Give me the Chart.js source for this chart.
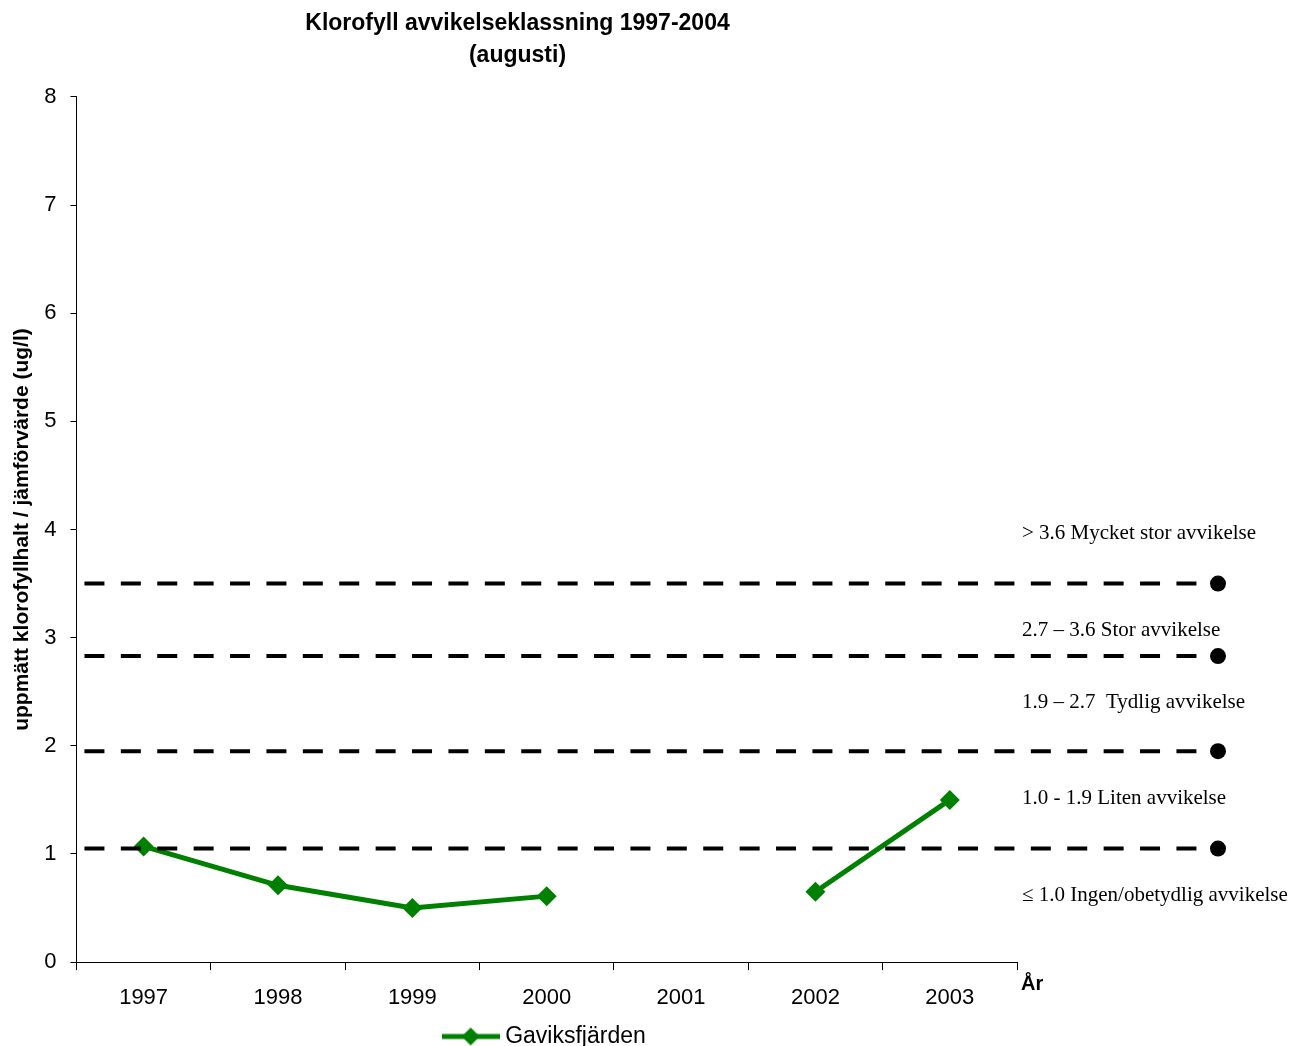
<!DOCTYPE html>
<html>
<head>
<meta charset="utf-8">
<script src="https://cdn.jsdelivr.net/npm/chart.js@4"></script>
<style>
  html, body { margin: 0; padding: 0; background: #fff; }
  #wrap { width: 1296px; height: 1046px; }
</style>
</head>
<body>
<div id="wrap"><canvas id="klorofyllChart"></canvas></div>
<script>
// Data
const years = ['1997', '1998', '1999', '2000', '2001', '2002', '2003'];
const gaviksfjarden = [1.07, 0.71, 0.50, 0.61, null, 0.65, 1.50];

// Class boundaries (dashed lines) and the class texts to the right
const classLimits = [3.5, 2.83, 1.95, 1.05];
const classTexts = [
    '> 3.6 Mycket stor avvikelse',
    '2.7 \u2013 3.6 Stor avvikelse',
    '1.9 \u2013 2.7  Tydlig avvikelse',
    '1.0 - 1.9 Liten avvikelse',
    '\u2264 1.0 Ingen/obetydlig avvikelse'
];
const classTextLevels = [3.96, 3.07, 2.40, 1.51, 0.62];

const yTicks = [0, 1, 2, 3, 4, 5, 6, 7, 8];

const green = '#008000';

// legend marker: line with a diamond in the middle
function legendMarker() {
    const c = document.createElement('canvas');
    c.width = 58;
    c.height = 20;
    const ctx = c.getContext('2d');
    ctx.strokeStyle = green;
    ctx.lineWidth = 5;
    ctx.beginPath();
    ctx.moveTo(0, 10);
    ctx.lineTo(58, 10);
    ctx.stroke();
    ctx.fillStyle = green;
    ctx.beginPath();
    ctx.moveTo(29 - 9, 10);
    ctx.lineTo(29, 1);
    ctx.lineTo(29 + 9, 10);
    ctx.lineTo(29, 19);
    ctx.closePath();
    ctx.fill();
    return c;
}

// dashed class lines, end dots, class texts and the "År" label
const classLinesPlugin = {
    id: 'classLines',
    afterDatasetsDraw(chart) {
        const ctx = chart.ctx;
        const area = chart.chartArea;
        const y = chart.scales.y;
        const xEnd = area.right + 201;
        ctx.save();
        classLimits.forEach(v => {
            const py = y.getPixelForValue(v);
            ctx.strokeStyle = '#000';
            ctx.lineWidth = 4;
            ctx.setLineDash([20, 16.4]);
            ctx.beginPath();
            ctx.moveTo(area.left + 8, py);
            ctx.lineTo(xEnd - 20, py);
            ctx.stroke();
            ctx.setLineDash([]);
            ctx.fillStyle = '#000';
            ctx.beginPath();
            ctx.arc(xEnd, py, 8, 0, Math.PI * 2);
            ctx.fill();
        });
        ctx.font = '21px "Liberation Serif", "Times New Roman", serif';
        ctx.fillStyle = '#000';
        ctx.textAlign = 'left';
        ctx.textBaseline = 'middle';
        classTexts.forEach((t, i) => {
            ctx.fillText(t, area.right + 5, y.getPixelForValue(classTextLevels[i]));
        });
        ctx.font = 'bold 20px "Liberation Sans", Arial, sans-serif';
        ctx.fillText('År', area.right + 4, area.bottom + 22);
        ctx.restore();
    }
};

const klorofyllConfig = {
    type: 'line',
    data: {
        labels: years,
        datasets: [{
            label: 'Gaviksfjärden',
            data: gaviksfjarden,
            borderColor: green,
            backgroundColor: green,
            borderWidth: 5,
            pointStyle: 'rectRot',
            pointRadius: 10,
            pointBorderWidth: 0,
            pointBackgroundColor: green,
            spanGaps: false,
            tension: 0
        }]
    },
    options: {
        responsive: true,
        maintainAspectRatio: false,
        animation: false,
        devicePixelRatio: 1,
        layout: {
            padding: { left: 18, right: 279, top: 0, bottom: -12 }
        },
        plugins: {
            title: {
                display: true,
                text: ['Klorofyll avvikelseklassning 1997-2004', '(augusti)'],
                color: '#000',
                font: { family: '"Liberation Sans", Arial, sans-serif', size: 23, weight: 'bold', lineHeight: 1.39 },
                padding: { top: 8, bottom: 25 }
            },
            legend: {
                position: 'bottom',
                fullSize: false,
                labels: {
                    color: '#000',
                    font: { family: '"Liberation Sans", Arial, sans-serif', size: 23 },
                    usePointStyle: true,
                    pointStyleWidth: 46,
                    padding: 0,
                    generateLabels: function(chart) {
                        return [{
                            text: chart.data.datasets[0].label,
                            pointStyle: legendMarker(),
                            fillStyle: green,
                            strokeStyle: green,
                            lineWidth: 0,
                            datasetIndex: 0
                        }];
                    }
                }
            },
            tooltip: { enabled: false }
        },
        scales: {
            x: {
                offset: true,
                grid: {
                    offset: true,
                    drawOnChartArea: false,
                    drawTicks: true,
                    tickLength: 8,
                    color: '#000'
                },
                border: { color: '#000', width: 1 },
                ticks: {
                    color: '#000',
                    font: { family: '"Liberation Sans", Arial, sans-serif', size: 22, lineHeight: 1.95 },
                    padding: 6,
                    maxRotation: 0
                }
            },
            y: {
                min: 0,
                max: 8,
                afterBuildTicks: function(scale) {
                    scale.ticks = yTicks.map(v => ({ value: v }));
                },
                grid: {
                    drawOnChartArea: false,
                    drawTicks: true,
                    tickLength: 6,
                    color: '#000'
                },
                border: { color: '#000', width: 1 },
                ticks: {
                    color: '#000',
                    font: { family: '"Liberation Sans", Arial, sans-serif', size: 22 },
                    padding: 14
                },
                title: {
                    display: true,
                    text: 'uppmätt klorofyllhalt / jämförvärde (ug/l)',
                    color: '#000',
                    font: { family: '"Liberation Sans", Arial, sans-serif', size: 21, weight: 'bold' },
                    padding: { top: -8, bottom: -5 }
                }
            }
        }
    },
    plugins: [classLinesPlugin]
};

new Chart(document.getElementById('klorofyllChart').getContext('2d'), klorofyllConfig);
</script>
</body>
</html>
